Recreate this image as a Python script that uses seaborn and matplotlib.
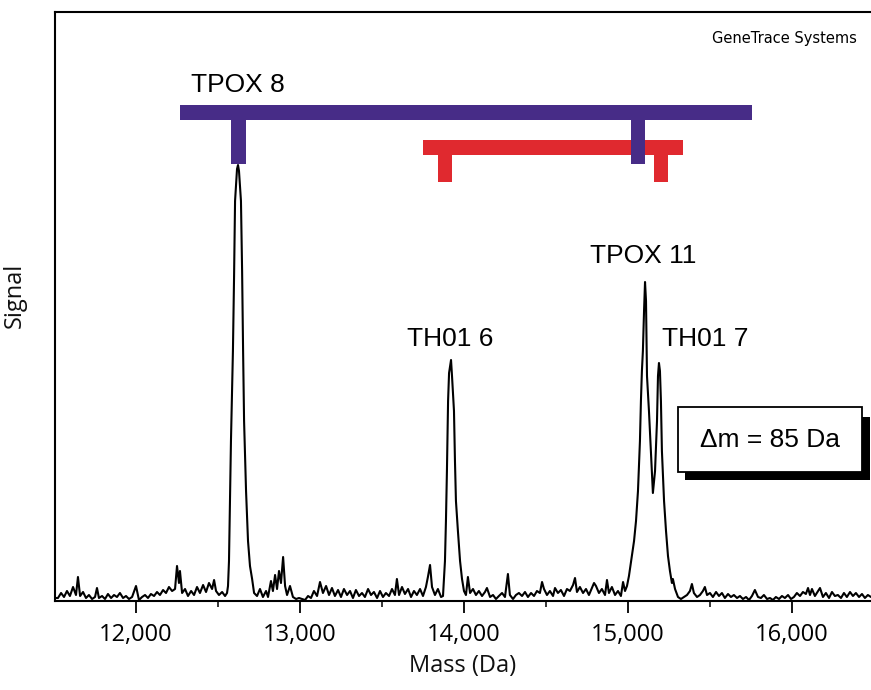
import numpy as np
import pandas as pd
import matplotlib
matplotlib.use("Agg")
import matplotlib.pyplot as plt
from matplotlib.patches import Rectangle
from matplotlib.ticker import FuncFormatter, MultipleLocator
import seaborn as sns

# ---------------- data ----------------
mass = [11506, 11524, 11543, 11561, 11579, 11597, 11616, 11634, 11646, 11659, 11677, 11695, 11713, 11732,
        11750, 11762, 11774, 11793, 11811, 11829, 11848, 11866, 11884, 11902, 11921, 11939, 11957, 11976,
        12000, 12018, 12037, 12055, 12073, 12091, 12110, 12128, 12146, 12165, 12183, 12201, 12220, 12238,
        12250, 12262, 12268, 12281, 12299, 12317, 12336, 12354, 12372, 12390, 12409, 12427, 12445, 12464,
        12476, 12488, 12506, 12525, 12543, 12555,
        12561, 12567, 12573, 12579, 12591, 12598, 12604, 12616, 12622, 12628, 12640, 12647, 12653, 12659,
        12671, 12683, 12695, 12708, 12720,
        12738, 12756, 12774, 12793, 12805, 12823, 12835, 12848, 12860, 12872, 12884, 12897, 12909, 12921,
        12939, 12957, 12976, 12994, 13012, 13031, 13049, 13067, 13085, 13104, 13122, 13140, 13159, 13177,
        13195, 13213, 13232, 13250, 13268, 13287, 13305, 13323, 13341, 13360, 13378, 13396, 13415, 13433,
        13451, 13470, 13488, 13506, 13524, 13543, 13561, 13579, 13591, 13604, 13622, 13640, 13659, 13677,
        13695, 13713, 13732, 13750, 13768, 13780, 13793, 13805, 13823, 13841, 13860, 13872,
        13884, 13890, 13896, 13903, 13909, 13921, 13927, 13939, 13945, 13951, 13963, 13976, 13988,
        14000, 14012, 14024, 14037, 14055, 14073, 14091, 14110, 14128, 14140, 14159, 14177, 14195, 14213,
        14232, 14250, 14268, 14280, 14299, 14317, 14335, 14354, 14372, 14390, 14409, 14427, 14445, 14463,
        14476, 14488, 14506, 14524, 14543, 14555, 14573, 14591, 14610, 14628, 14646, 14665, 14677, 14689,
        14707, 14726, 14744, 14762, 14780, 14793, 14805, 14823, 14841, 14860, 14872, 14884, 14902, 14921,
        14939, 14957, 14970, 14982, 14994,
        15006, 15024, 15037, 15049, 15061, 15073, 15079, 15085, 15091, 15098, 15104, 15110, 15116, 15128,
        15140, 15152, 15165, 15177, 15183, 15189, 15195, 15201, 15207, 15220, 15232, 15244, 15256, 15268,
        15274, 15287,
        15305, 15323, 15341, 15360, 15378, 15390, 15402, 15421, 15439, 15457, 15469, 15482, 15500, 15518,
        15537, 15555, 15573, 15591, 15610, 15628, 15646, 15665, 15683, 15701, 15720, 15738, 15756, 15774,
        15793, 15811, 15829, 15848, 15866, 15884, 15902, 15921, 15939, 15957, 15976, 15994, 16012, 16030,
        16049, 16067, 16085, 16098, 16110, 16122, 16140, 16159, 16171, 16189, 16207, 16226, 16244, 16262,
        16280, 16299, 16317, 16335, 16354, 16372, 16390, 16409, 16427, 16445, 16463, 16482]
signal = [3, 3, 8, 4, 10, 5, 14, 6, 24, 5, 9, 3, 6, 2,
          4, 13, 3, 5, 2, 7, 3, 6, 4, 8, 3, 5, 2, 4,
          15, 1, 4, 6, 3, 7, 5, 9, 6, 11, 8, 14, 10, 12,
          35, 18, 30, 8, 12, 5, 10, 6, 14, 8, 16, 9, 18, 12,
          21, 10, 6, 9, 5, 8,
          15, 40, 100, 160, 250, 325, 400, 432, 436, 430, 400, 330, 250, 180,
          110, 60, 35, 22, 8,
          5, 12, 4, 10, 4, 20, 10, 26, 12, 30, 18, 44, 15, 6,
          15, 4, 2, 3, 2, 1, 5, 3, 10, 5, 19, 8, 15, 6,
          13, 5, 11, 4, 12, 6, 10, 3, 11, 5, 8, 4, 12, 6,
          9, 3, 10, 4, 8, 5, 12, 6, 22, 6, 14, 7, 12, 4,
          10, 6, 12, 5, 14, 24, 36, 14, 6, 12, 4, 5,
          40, 80, 130, 200, 228, 241, 225, 190, 140, 100, 70, 40, 22,
          10, 6, 24, 8, 12, 6, 10, 5, 9, 13, 4, 6, 2, 5,
          8, 4, 27, 6, 2, 6, 8, 5, 9, 4, 8, 5, 10, 8,
          19, 12, 6, 10, 5, 13, 8, 11, 5, 12, 10, 16, 23, 9,
          14, 8, 12, 6, 13, 18, 15, 8, 12, 6, 21, 8, 14, 6,
          10, 5, 19, 10, 15,
          25, 45, 60, 80, 110, 160, 200, 230, 250, 290, 319, 300, 225, 190,
          150, 108, 130, 180, 225, 238, 230, 200, 150, 100, 70, 45, 30, 18,
          22, 12,
          4, 2, 4, 6, 10, 17, 8, 4, 6, 10, 14, 6, 8, 4,
          9, 5, 8, 3, 7, 4, 6, 3, 5, 2, 4, 1, 5, 11,
          4, 3, 6, 2, 3, 1, 4, 2, 5, 3, 6, 2, 4, 8,
          5, 9, 7, 13, 6, 12, 5, 10, 13, 4, 8, 3, 9, 5,
          6, 3, 8, 4, 9, 5, 8, 4, 7, 3, 6, 4]

peak_labels = ["TPOX 8", "TH01 6", "TPOX 11", "TH01 7"]
label_mass = [12619, 13915, 15095, 15470]
label_signal = [509, 255, 338, 255]

tpox_bar = [12268, 15756]        # purple bracket span
tpox_stems = [12625, 15061]      # purple bracket stems
th01_bar = [13750, 15336]        # red bracket span
th01_stems = [13884, 15201]      # red bracket stems

xticks = [12000, 13000, 14000, 15000, 16000]
delta_text = "\u0394m = 85 Da"

df = pd.DataFrame({"Mass (Da)": mass, "Signal": signal})

# ---------------- figure ----------------
sns.set_style("white")
plt.rcParams["font.family"] = ["Open Sans", "DejaVu Sans"]

W, H = 871, 690
fig = plt.figure(figsize=(W / 100, H / 100), dpi=100)
ax = fig.add_axes([55 / W, (H - 601) / H, 1 - 55 / W, (601 - 12) / H])

sns.lineplot(data=df, x="Mass (Da)", y="Signal", ax=ax, color="black",
             linewidth=1.5, estimator=None, sort=False, zorder=3)

ax.set_xlim(11506, 16482)
ax.set_ylim(0, 589)

ax.set_yticks([])
ax.set_xticks(xticks)
ax.xaxis.set_minor_locator(MultipleLocator(500))
ax.xaxis.set_major_formatter(FuncFormatter(lambda v, p: f"{v:,.0f}"))
ax.tick_params(axis="x", which="major", direction="out", length=8.6, width=1.3,
               pad=7, labelsize=17, colors="black", bottom=True)
ax.tick_params(axis="x", which="minor", direction="out", length=4.3, width=1.3, bottom=True)

for s in ["left", "top", "bottom"]:
    ax.spines[s].set_visible(True)
    ax.spines[s].set_color("black")
    ax.spines[s].set_linewidth(1.5)
ax.spines["right"].set_visible(False)

ax.set_xlabel("Mass (Da)", fontsize=17, labelpad=5, color="#111111")
ax.set_ylabel("Signal", fontsize=17, color="#111111")
ax.yaxis.set_label_coords(-0.034, (601 - 295) / 589)

purple = "#472C87"
red = "#E0292F"
stem_w = 90
# red bracket (under purple stem)
ax.add_patch(Rectangle((th01_bar[0], 446), th01_bar[1] - th01_bar[0], 15,
                       facecolor=red, edgecolor="none", zorder=4, clip_on=False))
for sx in th01_stems:
    ax.add_patch(Rectangle((sx - stem_w / 2, 419), stem_w, 28,
                           facecolor=red, edgecolor="none", zorder=4, clip_on=False))
# purple bracket
ax.add_patch(Rectangle((tpox_bar[0], 481), tpox_bar[1] - tpox_bar[0], 15,
                       facecolor=purple, edgecolor="none", zorder=5, clip_on=False))
for sx in tpox_stems:
    ax.add_patch(Rectangle((sx - stem_w / 2, 437), stem_w, 45,
                           facecolor=purple, edgecolor="none", zorder=5, clip_on=False))

for lab, mx, sy in zip(peak_labels, label_mass, label_signal):
    ax.text(mx, sy, lab, ha="center", va="baseline", fontsize=19,
            family=["Liberation Sans", "DejaVu Sans"], color="black", zorder=6)

# delta-m box with drop shadow
ax.add_patch(Rectangle((15348, 121), 16476 - 15348, 63, facecolor="black",
                       edgecolor="none", zorder=6, clip_on=False))
ax.add_patch(Rectangle((15305, 129), 16427 - 15305, 65, facecolor="white",
                       edgecolor="black", linewidth=1.3, zorder=7, clip_on=False))
ax.text((15305 + 16427) / 2, 161, delta_text, ha="center", va="center", fontsize=19,
        family=["Liberation Sans", "DejaVu Sans"], color="black", zorder=8)

fig.text(857 / W, 1 - 38 / H, "GeneTrace Systems", ha="right", va="center",
         fontsize=10.5, family=["DejaVu Sans"], color="black")

fig.savefig("out.png", dpi=100)
